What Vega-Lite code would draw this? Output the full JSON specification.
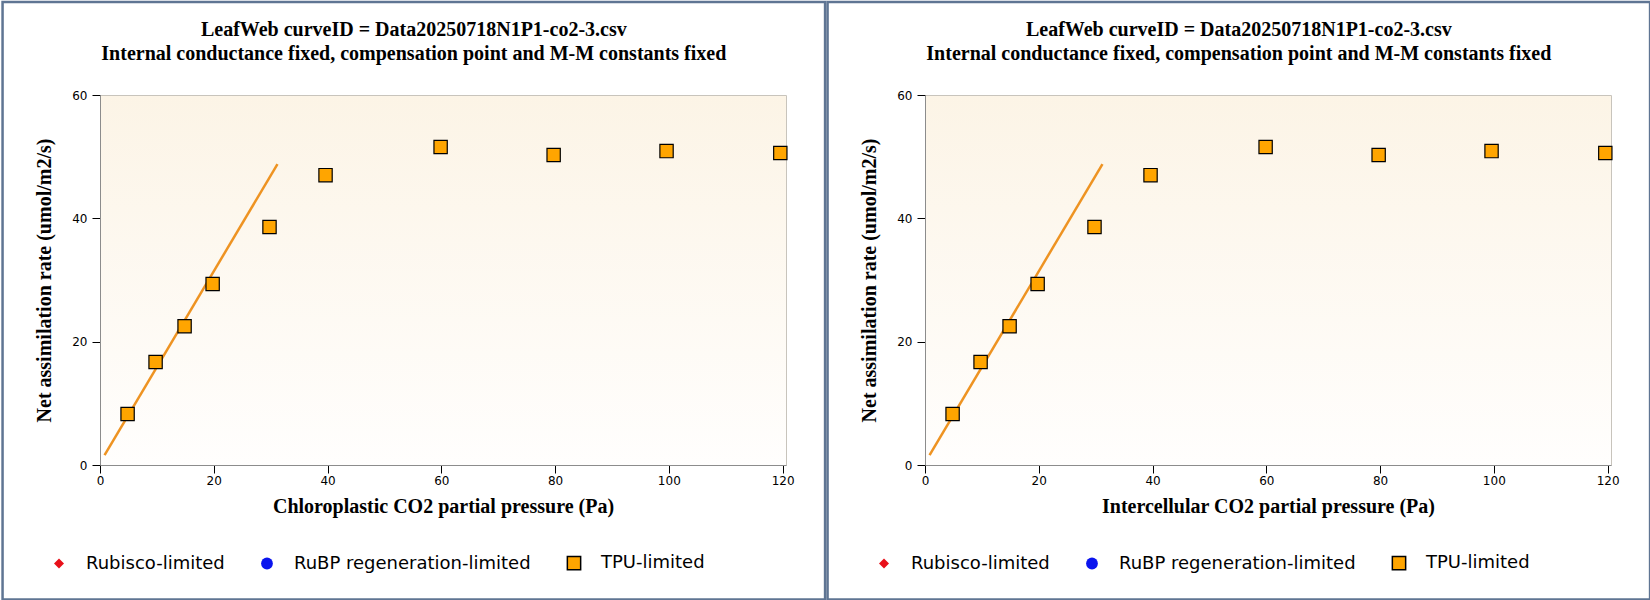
{
  "$schema": "https://vega.github.io/schema/vega-lite/v6.json",
  "background": "white",
  "padding": 0,
  "autosize": {"type": "pad"},
  "datasets": {
    "aci": [
      {"ci": 4.85, "a": 8.27, "limit": "TPU-limited"},
      {"ci": 9.77, "a": 16.7, "limit": "TPU-limited"},
      {"ci": 14.87, "a": 22.5, "limit": "TPU-limited"},
      {"ci": 19.8, "a": 29.35, "limit": "TPU-limited"},
      {"ci": 29.8, "a": 38.6, "limit": "TPU-limited"},
      {"ci": 39.65, "a": 47.0, "limit": "TPU-limited"},
      {"ci": 59.88, "a": 51.57, "limit": "TPU-limited"},
      {"ci": 79.75, "a": 50.27, "limit": "TPU-limited"},
      {"ci": 99.6, "a": 50.9, "limit": "TPU-limited"},
      {"ci": 119.6, "a": 50.6, "limit": "TPU-limited"}
    ],
    "fit": [
      {"ci": 0.8, "a": 1.6},
      {"ci": 31.2, "a": 48.8}
    ],
    "frame": [{}]
  },
  "config": {
    "view": {
      "stroke": "#c8c4bc",
      "fill": {
        "gradient": "linear",
        "x1": 0, "y1": 0, "x2": 0, "y2": 1,
        "stops": [
          {"offset": 0, "color": "#fcf4e6"},
          {"offset": 1, "color": "#fffefd"}
        ]
      }
    },
    "axis": {
      "labelFont": "DejaVu Sans",
      "labelFontSize": 12,
      "labelColor": "#000000",
      "titleFont": "Liberation Serif",
      "titleFontWeight": "bold",
      "titleFontSize": 20,
      "titleColor": "#000000",
      "gridColor": "#cbc8c2",
      "domainColor": "#8c8c8c",
      "tickColor": "#000000",
      "tickSize": 8
    },
    "axisX": {"labelPadding": 2, "titlePadding": 10, "labelFlush": false},
    "axisY": {"labelPadding": 5, "titlePadding": 17},
    "title": {
      "font": "Liberation Serif",
      "fontWeight": "bold",
      "fontSize": 20,
      "color": "#000000",
      "anchor": "middle",
      "frame": "bounds",
      "lineHeight": 24,
      "offset": -63
    },
    "legend": {
      "orient": "none",
      "legendX": -50,
      "legendY": 459,
      "direction": "horizontal",
      "columns": 3,
      "labelFont": "DejaVu Sans",
      "labelFontSize": 18,
      "labelColor": "#000000",
      "labelLimit": 400,
      "labelOffset": 18,
      "columnPadding": 33,
      "padding": 0
    },
    "concat": {"spacing": 139}
  },
  "bounds": "flush",
  "resolve": {
    "scale": {"color": "independent", "shape": "independent", "size": "independent", "stroke": "independent"}
  },
  "hconcat": [
    {
      "width": 686,
      "height": 370,
      "title": {"text": ["LeafWeb curveID = Data20250718N1P1-co2-3.csv", "Internal conductance fixed, compensation point and M-M constants fixed"]},
      "layer": [
        {
          "data": {"name": "frame"},
          "mark": {"type": "rect", "filled": false, "stroke": "#5f7593", "strokeWidth": 2.5},
          "encoding": {
            "x": {"datum": -17.13, "type": "quantitative", "title": "Chloroplastic CO2 partial pressure (Pa)", "scale": {"domain": [0, 120.6], "nice": false, "zero": false}},
            "x2": {"datum": 127.47},
            "y": {"datum": 75.09, "type": "quantitative", "title": "Net assimilation rate (umol/m2/s)", "scale": {"domain": [0, 60], "nice": false, "zero": false}},
            "y2": {"datum": -21.8}
          }
        },
        {
          "data": {"name": "fit"},
          "mark": {"type": "line", "color": "#ee9322", "strokeWidth": 2.5},
          "encoding": {
            "x": {"field": "ci", "type": "quantitative", "title": "Chloroplastic CO2 partial pressure (Pa)", "scale": {"domain": [0, 120.6], "nice": false, "zero": false}},
            "y": {"field": "a", "type": "quantitative", "title": "Net assimilation rate (umol/m2/s)", "scale": {"domain": [0, 60], "nice": false, "zero": false}}
          }
        },
        {
          "data": {"name": "aci"},
          "mark": {"type": "point", "filled": true, "opacity": 1, "strokeWidth": 1.2},
          "encoding": {
            "x": {"field": "ci", "type": "quantitative", "title": "Chloroplastic CO2 partial pressure (Pa)", "scale": {"domain": [0, 120.6], "nice": false, "zero": false}, "axis": {"values": [0, 20, 40, 60, 80, 100, 120]}},
            "y": {"field": "a", "type": "quantitative", "title": "Net assimilation rate (umol/m2/s)", "scale": {"domain": [0, 60], "nice": false, "zero": false}, "axis": {"values": [0, 20, 40, 60]}},
            "color": {"field": "limit", "type": "nominal", "legend": {"title": null}, "scale": {"domain": ["Rubisco-limited", "RuBP regeneration-limited", "TPU-limited"], "range": ["#e8101a", "#0a14ee", "#ffa500"]}},
            "shape": {"field": "limit", "type": "nominal", "legend": {"title": null}, "scale": {"domain": ["Rubisco-limited", "RuBP regeneration-limited", "TPU-limited"], "range": ["diamond", "circle", "square"]}},
            "size": {"field": "limit", "type": "nominal", "legend": {"title": null}, "scale": {"domain": ["Rubisco-limited", "RuBP regeneration-limited", "TPU-limited"], "range": [100, 177, 175]}},
            "stroke": {"field": "limit", "type": "nominal", "legend": {"title": null}, "scale": {"domain": ["Rubisco-limited", "RuBP regeneration-limited", "TPU-limited"], "range": ["transparent", "transparent", "#000000"]}}
          }
        }
      ]
    },
    {
      "width": 686,
      "height": 370,
      "title": {"text": ["LeafWeb curveID = Data20250718N1P1-co2-3.csv", "Internal conductance fixed, compensation point and M-M constants fixed"]},
      "layer": [
        {
          "data": {"name": "frame"},
          "mark": {"type": "rect", "filled": false, "stroke": "#5f7593", "strokeWidth": 2.5},
          "encoding": {
            "x": {"datum": -17.13, "type": "quantitative", "title": "Intercellular CO2 partial pressure (Pa)", "scale": {"domain": [0, 120.6], "nice": false, "zero": false}},
            "x2": {"datum": 127.47},
            "y": {"datum": 75.09, "type": "quantitative", "title": "Net assimilation rate (umol/m2/s)", "scale": {"domain": [0, 60], "nice": false, "zero": false}},
            "y2": {"datum": -21.8}
          }
        },
        {
          "data": {"name": "fit"},
          "mark": {"type": "line", "color": "#ee9322", "strokeWidth": 2.5},
          "encoding": {
            "x": {"field": "ci", "type": "quantitative", "title": "Intercellular CO2 partial pressure (Pa)", "scale": {"domain": [0, 120.6], "nice": false, "zero": false}},
            "y": {"field": "a", "type": "quantitative", "title": "Net assimilation rate (umol/m2/s)", "scale": {"domain": [0, 60], "nice": false, "zero": false}}
          }
        },
        {
          "data": {"name": "aci"},
          "mark": {"type": "point", "filled": true, "opacity": 1, "strokeWidth": 1.2},
          "encoding": {
            "x": {"field": "ci", "type": "quantitative", "title": "Intercellular CO2 partial pressure (Pa)", "scale": {"domain": [0, 120.6], "nice": false, "zero": false}, "axis": {"values": [0, 20, 40, 60, 80, 100, 120]}},
            "y": {"field": "a", "type": "quantitative", "title": "Net assimilation rate (umol/m2/s)", "scale": {"domain": [0, 60], "nice": false, "zero": false}, "axis": {"values": [0, 20, 40, 60]}},
            "color": {"field": "limit", "type": "nominal", "legend": {"title": null}, "scale": {"domain": ["Rubisco-limited", "RuBP regeneration-limited", "TPU-limited"], "range": ["#e8101a", "#0a14ee", "#ffa500"]}},
            "shape": {"field": "limit", "type": "nominal", "legend": {"title": null}, "scale": {"domain": ["Rubisco-limited", "RuBP regeneration-limited", "TPU-limited"], "range": ["diamond", "circle", "square"]}},
            "size": {"field": "limit", "type": "nominal", "legend": {"title": null}, "scale": {"domain": ["Rubisco-limited", "RuBP regeneration-limited", "TPU-limited"], "range": [100, 177, 175]}},
            "stroke": {"field": "limit", "type": "nominal", "legend": {"title": null}, "scale": {"domain": ["Rubisco-limited", "RuBP regeneration-limited", "TPU-limited"], "range": ["transparent", "transparent", "#000000"]}}
          }
        }
      ]
    }
  ]
}
